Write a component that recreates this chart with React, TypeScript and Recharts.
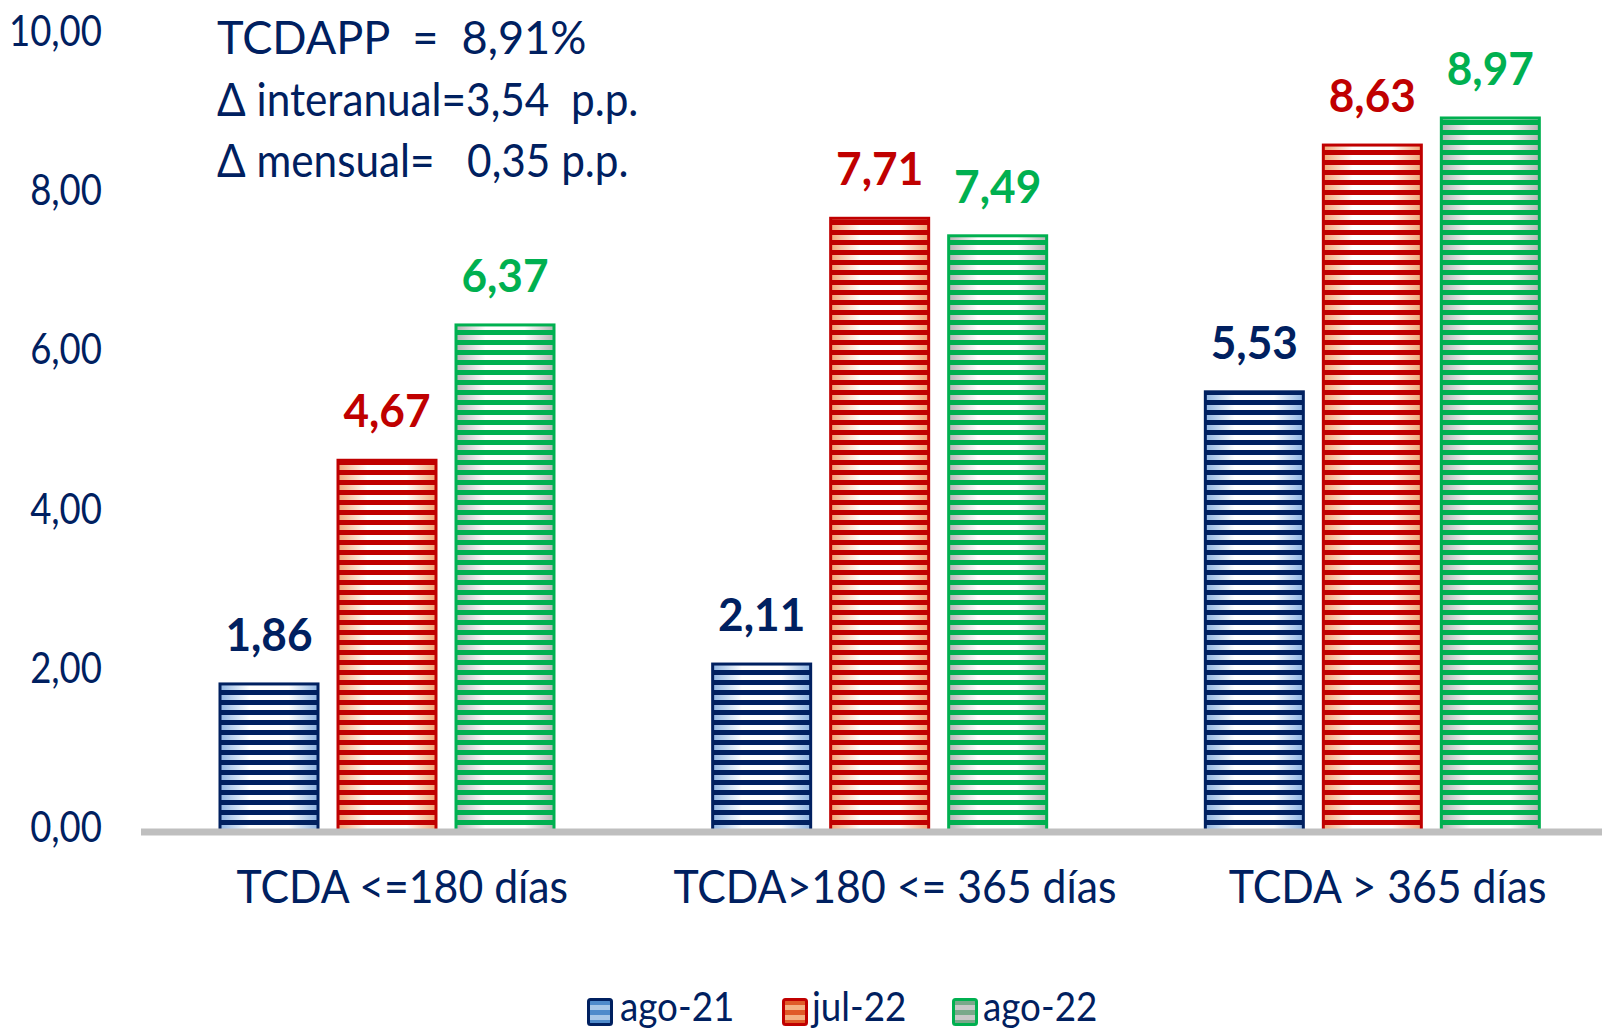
import React from 'react'
import { BarChart, Bar, XAxis, YAxis, Legend, LabelList } from 'recharts'

const CATEGORIES = ['TCDA <=180 días', 'TCDA>180 <= 365 días', 'TCDA > 365 días']
const AGO_21 = [1.86, 2.11, 5.53]
const JUL_22 = [4.67, 7.71, 8.63]
const AGO_22 = [6.37, 7.49, 8.97]
const SERIES_NAMES = ['ago-21', 'jul-22', 'ago-22']
const Y_TICKS = [0, 2, 4, 6, 8, 10]
const NOTE_LINES = ['TCDAPP  =  8,91%', 'Δ interanual=3,54  p.p.', 'Δ mensual=   0,35 p.p.']

const NAVY = '#002060'
const FONT = 'Lato, "Open Sans", sans-serif'

// styles per series (outline / stripe colour, gradient edge, legend icon colours)
const SERIES = [
  { key: 'ago21', line: '#002060', edge: '#8DB3E2', icon: ['#4F8BCB', '#A7C7E8'] },
  { key: 'jul22', line: '#C00000', edge: '#F2A474', icon: ['#E05A28', '#F4B183'] },
  { key: 'ago22', line: '#00B050', edge: '#B4B4B4', icon: ['#78A98A', '#C8C8C8'] },
]

const chartData = CATEGORIES.map((name, i) => ({
  name,
  ago21: AGO_21[i],
  jul22: JUL_22[i],
  ago22: AGO_22[i],
}))

const fmt = (v: number) => v.toFixed(2).replace('.', ',')

type SqProps = {
  x: number
  y: number
  size: number
  sx?: number
  anchor?: 'start' | 'middle' | 'end'
  color?: string
  weight?: number
  children: React.ReactNode
}

// Gill Sans is narrow, so squeeze the fallback font a bit
function SqText({ x, y, size, sx = 1, anchor = 'start', color = NAVY, weight = 400, children }: SqProps) {
  return (
    <text
      transform={`translate(${x},${y}) scale(${sx},1)`}
      textAnchor={anchor}
      fontFamily={FONT}
      fontSize={size}
      fontWeight={weight}
      fill={color}
      style={{ whiteSpace: 'pre' }}
    >
      {children}
    </text>
  )
}

const stripedBar = (s: (typeof SERIES)[number]) => (props: any) => {
  const { x, y, width, height } = props
  if (!height || height <= 0) return <g />
  return (
    <g>
      <rect x={x} y={y} width={width} height={height} fill={`url(#bg-${s.key})`} />
      <rect x={x} y={y} width={width} height={height} fill={`url(#st-${s.key})`} />
      <rect x={x} y={y} width={width} height={height} fill="none" stroke={s.line} strokeWidth={3} />
    </g>
  )
}

const valueLabel = (color: string) => (props: any) => {
  const vb = props.viewBox || {}
  const x = props.x ?? vb.x
  const y = props.y ?? vb.y
  const w = props.width ?? vb.width
  return (
    <SqText x={x + w / 2} y={y - 33} size={46} sx={0.96} anchor="middle" color={color} weight={700}>
      {fmt(Number(props.value))}
    </SqText>
  )
}

const YTick = (props: any) => (
  <SqText x={props.x} y={props.y + 10} size={42} sx={0.87} anchor="end">
    {fmt(Number(props.payload.value))}
  </SqText>
)

const XTick = (props: any) => (
  <SqText x={props.x + 15} y={props.y + 71} size={46} sx={0.93} anchor="middle">
    {props.payload.value}
  </SqText>
)

const LEG_ICON_X = [2, 197, 367]
const LEG_TEXT_X = [35, 227, 398]

const renderLegend = () => (
  <svg width={540} height={50} style={{ display: 'block' }}>
    <defs>
      {SERIES.map((s) => (
        <pattern key={s.key} id={`lg-${s.key}`} patternUnits="userSpaceOnUse" width="10" height="10">
          <rect x="0" y="0" width="10" height="10" fill={s.icon[1]} />
          <rect x="0" y="0" width="10" height="5" fill={s.icon[0]} />
        </pattern>
      ))}
    </defs>
    {SERIES.map((s, i) => (
      <g key={s.key}>
        <rect
          x={LEG_ICON_X[i] + 1.5}
          y={9.5}
          width={23}
          height={25}
          rx={2}
          fill={`url(#lg-${s.key})`}
          stroke={s.line}
          strokeWidth={3}
        />
        <SqText x={LEG_TEXT_X[i]} y={31} size={40} sx={0.92}>
          {SERIES_NAMES[i]}
        </SqText>
      </g>
    ))}
  </svg>
)

export default function App() {
  return (
    <div style={{ position: 'absolute', left: 0, top: 0, width: 1602, height: 1033, overflow: 'hidden', background: '#fff' }}>
      <BarChart
        width={1625}
        height={1033}
        data={chartData}
        margin={{ top: 36, right: 6, left: 0, bottom: 101 }}
        barSize={98}
        barGap={20}
      >
        <defs>
          {SERIES.map((s) => (
            <React.Fragment key={s.key}>
              <linearGradient id={`bg-${s.key}`} x1="0" y1="0" x2="1" y2="0">
                <stop offset="0" stopColor={s.edge} />
                <stop offset="0.3" stopColor="#ffffff" />
                <stop offset="0.7" stopColor="#ffffff" />
                <stop offset="1" stopColor={s.edge} />
              </linearGradient>
              <pattern id={`st-${s.key}`} patternUnits="userSpaceOnUse" width="10" height="10">
                <rect x="0" y="0" width="10" height="5" fill={s.line} />
              </pattern>
            </React.Fragment>
          ))}
        </defs>
        <YAxis
          width={141}
          domain={[0, 10]}
          ticks={Y_TICKS}
          axisLine={false}
          tickLine={false}
          tickSize={0}
          tickMargin={39}
          tick={<YTick />}
          interval={0}
        />
        <XAxis
          dataKey="name"
          height={100}
          axisLine={{ stroke: '#BFBFBF', strokeWidth: 7 }}
          tickLine={false}
          tickSize={0}
          tickMargin={0}
          tick={<XTick />}
          interval={0}
        />
        {SERIES.map((s, i) => (
          <Bar key={s.key} dataKey={s.key} name={SERIES_NAMES[i]} shape={stripedBar(s)} isAnimationActive={false}>
            <LabelList dataKey={s.key} content={valueLabel(s.line)} />
          </Bar>
        ))}
        <Legend
          layout="horizontal"
          verticalAlign="middle"
          align="center"
          content={renderLegend}
          wrapperStyle={{ top: 990, left: 585, width: 540, height: 43 }}
        />
        {NOTE_LINES.map((t, i) => (
          <SqText key={i} x={217} y={54 + i * 61.5} size={47} sx={i === 0 ? 0.96 : 0.9}>
            {t}
          </SqText>
        ))}
      </BarChart>
    </div>
  )
}
